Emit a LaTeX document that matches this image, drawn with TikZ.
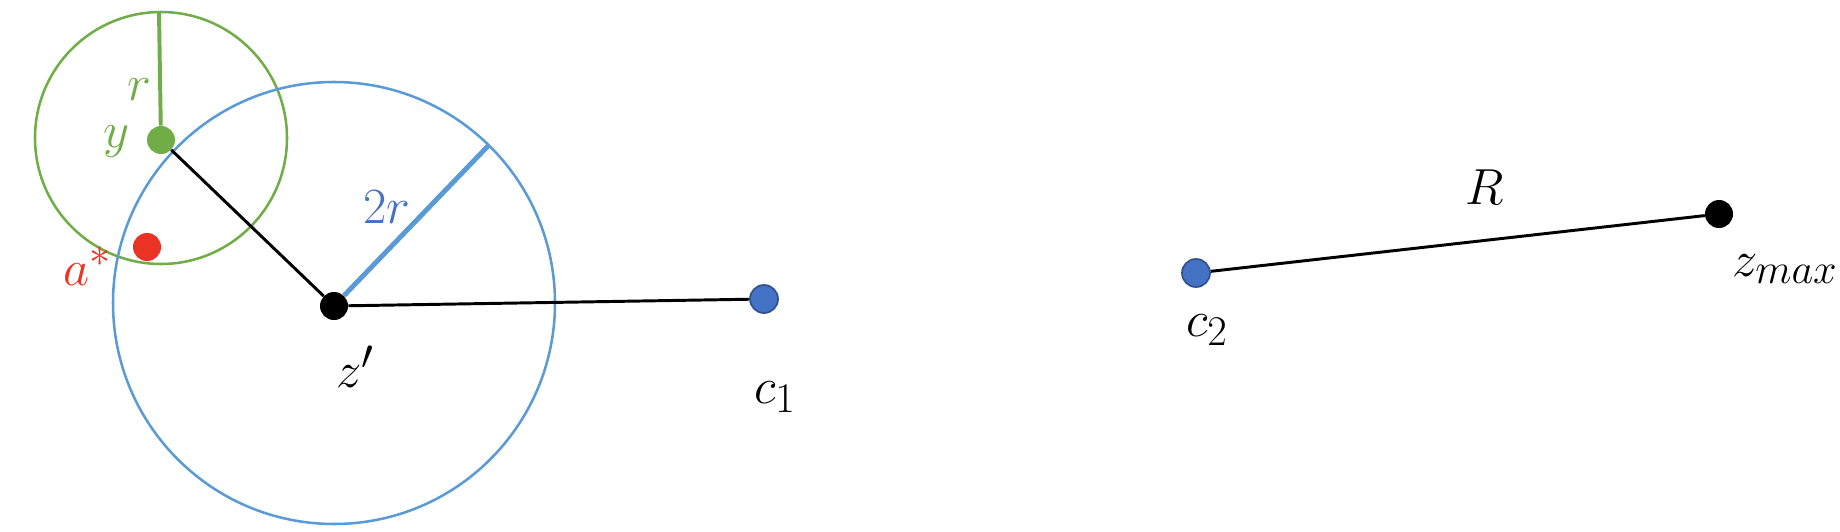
\documentclass[tikz,border=0pt]{standalone}
\usetikzlibrary{calc}
\definecolor{grn}{RGB}{112,173,71}
\definecolor{blu}{RGB}{91,155,213}
\definecolor{dblu}{RGB}{68,114,196}
\definecolor{bord}{RGB}{47,82,143}
\definecolor{rd}{RGB}{234,51,35}
\newcommand\rg{126}
\newcommand\rb{221}
\tikzset{
	pt/.style={circle,inner sep=0pt,minimum size=0.7cm},
	lbl/.style={inner sep=0pt,scale=1.45,font=\fontsize{24.88}{30}\selectfont},
	edge/.style={line width=2.1pt}
}
\begin{document}
\begin{tikzpicture}[x=0.025cm,y=-0.025cm]
\useasboundingbox (0,0) rectangle (1840,532);
\draw [grn,line width=1.8pt](161,138) circle (\rg);
\draw [blu,line width=1.8pt](334,303) circle (\rb);
\node [pt,fill=grn] (y) at (161,140) {};
\node [pt,fill=black] (zp) at (334,306) {};
\node [pt,fill=rd] (a) at (147,247) {};
\node [pt,fill=dblu,draw=bord,line width=1.2pt] (c1) at (764,299) {};
\node [pt,fill=dblu,draw=bord,line width=1.2pt] (c2) at (1196,273) {};
\node [pt,fill=black] (zm) at (1719,214) {};
\coordinate (gtop) at (159,12);
\coordinate (btop) at (488,146);
\draw [grn,line width=2.8pt](y) -- (gtop);
\draw [blu,line width=3.5pt](zp) -- (btop);
\draw [edge](y) -- (zp);
\draw [edge](zp) -- (c1);
\draw [edge](c2) -- (zm);
\node [lbl,text=grn] (lr) at (139,90) {$r$};
\node [lbl,text=grn] (ly) at (117,142) {$y$};
\node [lbl,text=rd] (la) at (88,266) {$a^*$};
\node [lbl,text=dblu] (l2r) at (387,207) {$2r$};
\node [lbl] (lz) at (355,367) {$z'$};
\node [lbl] (lc1) at (775,397) {$c_1$};
\node [lbl] (lc2) at (1207,330) {$c_2$};
\node [lbl] (lR) at (1485,187) {$R$};
\node [lbl] (lzm) at (1785,269) {$z_{max}$};
\end{tikzpicture}
\end{document}
